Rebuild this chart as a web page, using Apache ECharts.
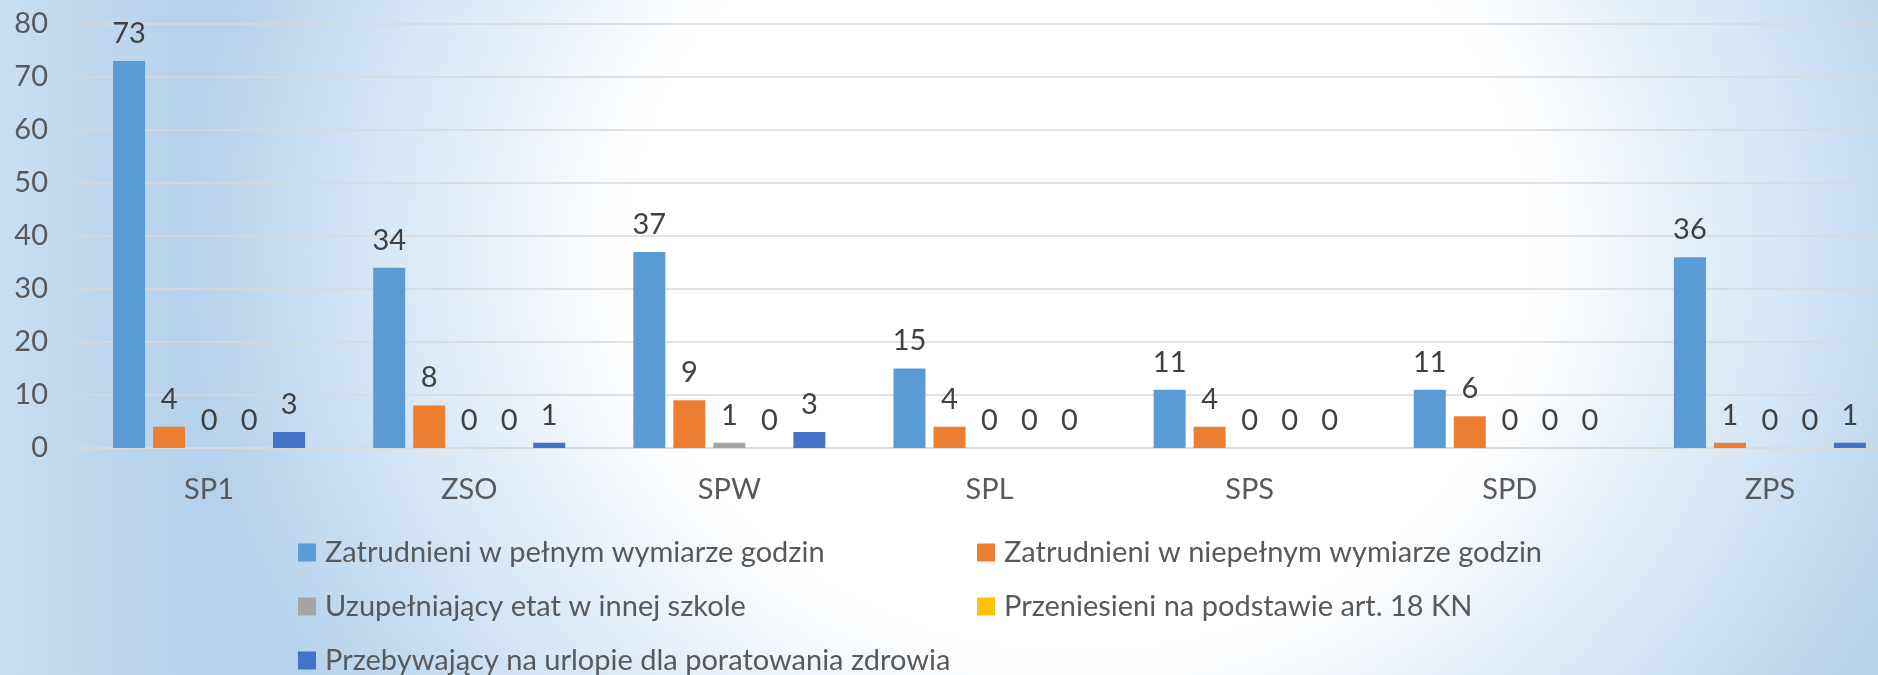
<!DOCTYPE html>
<html>
<head>
<meta charset="utf-8">
<script src="https://cdn.jsdelivr.net/npm/echarts@6/dist/echarts.min.js"></script>
<style>
  html, body {
    margin: 0;
    padding: 0;
  }
  body {
    width: 1878px;
    height: 675px;
    background:
      radial-gradient(ellipse 900px 800px at 1080px 250px, rgba(255,255,255,1) 0%, rgba(255,255,255,1) 50%, rgba(255,255,255,0) 100%),
      linear-gradient(90deg, #c9def1 0%, #b5d2ec 10%, #b8d4ed 50%, #b6d3ec 100%);
  }
  #chart {
    width: 1878px;
    height: 675px;
  }
</style>
</head>
<body>
<div id="chart"></div>
<script>
  const schools = ['SP1', 'ZSO', 'SPW', 'SPL', 'SPS', 'SPD', 'ZPS'];

  const fullTime = [73, 34, 37, 15, 11, 11, 36];
  const partTime = [4, 8, 9, 4, 4, 6, 1];
  const otherSchool = [0, 0, 1, 0, 0, 0, 0];
  const transferred = [0, 0, 0, 0, 0, 0, 0];
  const healthLeave = [3, 1, 3, 0, 0, 0, 1];

  const seriesNames = [
    'Zatrudnieni w pełnym wymiarze godzin',
    'Zatrudnieni w niepełnym wymiarze godzin',
    'Uzupełniający etat w innej szkole',
    'Przeniesieni na podstawie art. 18 KN',
    'Przebywający na urlopie dla poratowania zdrowia'
  ];
  const seriesData = [fullTime, partTime, otherSchool, transferred, healthLeave];
  const colors = ['#5b9bd5', '#ed7d31', '#a5a5a5', '#ffc000', '#4472c4'];

  const font = 'Lato, "Noto Sans", sans-serif';
  const fontSize = 29;
  const chart = echarts.init(document.getElementById('chart'));

  // legend placed item by item: two columns, three rows
  const legendSpots = [[298, 538], [977, 538], [298, 592], [977, 592], [298, 646]];

  function legendItem(i) {
    return {
      data: [seriesNames[i]],
      left: legendSpots[i][0],
      top: legendSpots[i][1],
      padding: 0,
      itemWidth: 18,
      itemHeight: 18,
      itemGap: 0,
      icon: 'rect',
      selectedMode: false,
      textStyle: {
        color: '#595959',
        fontSize: fontSize,
        fontFamily: font,
        lineHeight: 29,
        padding: [0, 0, 0, 4]
      }
    };
  }

  const option = {
    backgroundColor: 'transparent',
    color: colors,
    animation: false,
    grid: {
      left: 79,
      top: 24,
      right: -22,
      bottom: 227,
      outerBoundsMode: 'none'
    },
    legend: seriesNames.map((n, i) => legendItem(i)),
    xAxis: {
      type: 'category',
      data: schools,
      axisLine: {lineStyle: {color: '#d9d9d9', width: 1.5}},
      axisTick: {show: false},
      axisLabel: {
        color: '#595959',
        fontSize: fontSize,
        fontFamily: font,
        margin: 27
      }
    },
    yAxis: {
      type: 'value',
      min: 0,
      max: 80,
      interval: 10,
      axisLine: {show: false},
      axisTick: {show: false},
      axisLabel: {
        color: '#595959',
        fontSize: fontSize,
        fontFamily: font,
        margin: 31
      },
      splitLine: {lineStyle: {color: '#d9d9d9', width: 1.5}}
    },
    series: seriesData.map((d, i) => ({
      name: seriesNames[i],
      type: 'bar',
      data: d,
      barWidth: 32,
      barGap: '25%',
      label: {
        show: true,
        position: 'top',
        distance: 13,
        color: '#404040',
        fontSize: fontSize,
        fontFamily: font
      }
    }))
  };

  chart.setOption(option);
</script>
</body>
</html>
